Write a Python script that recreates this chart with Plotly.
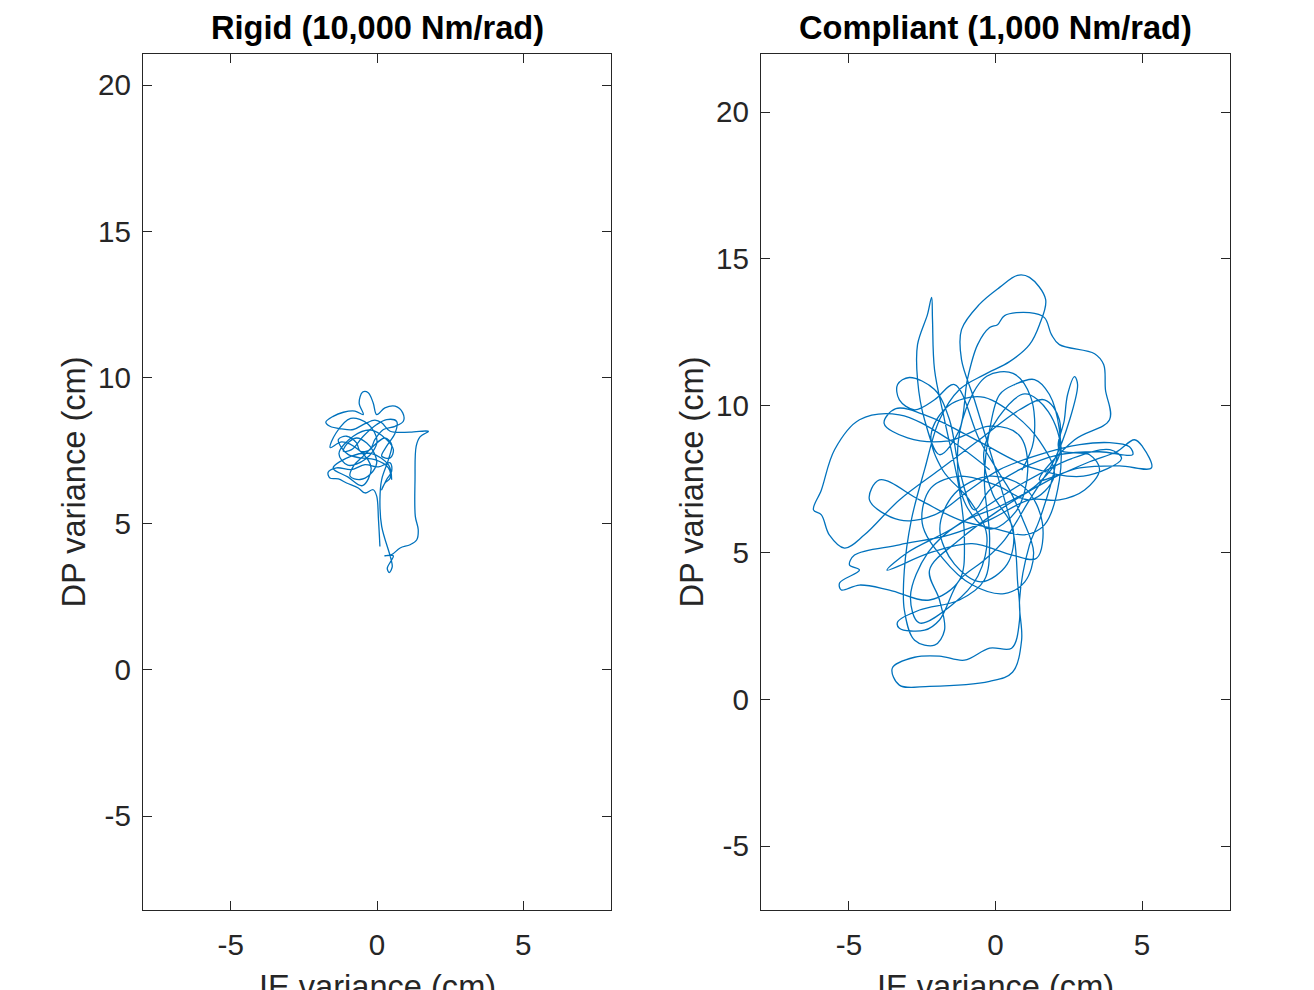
import plotly.graph_objects as go
from plotly.subplots import make_subplots

# ---------------- data ----------------
titles = ["Rigid (10,000 Nm/rad)", "Compliant (1,000 Nm/rad)"]
x_label = "IE variance (cm)"
y_label = "DP variance (cm)"
x_ticks = [-5, 0, 5]
x_ticktext = ["-5", "0", "5"]
y_ticks = [-5, 0, 5, 10, 15, 20]
y_ticktext = ["-5", "0", "5", "10", "15", "20"]

rigid_ie = [0.10, 0.05, -0.01, -0.13, -0.41, -0.64, -1.04, -1.32, -1.61, -1.67,
            -1.38, -0.87, -0.41, 0.05, 0.45, 0.50, 0.33, 0.16, 0.27, 0.45,
            0.39, -0.07, -0.58, -0.98, -1.21, -1.32, -1.04, -0.70, -0.58, -0.24,
            -0.07, 0.22, 0.62, 0.90, 0.88, 0.62, 0.27, -0.01, -0.13, -0.30,
            -0.49, -0.61, -0.47, -0.75, -1.15, -1.50, -1.75, -1.61, -1.21, -0.81,
            -0.41, -0.07, 0.16, 0.45, 1.13, 1.76, 1.47, 1.34, 1.30, 1.31,
            1.41, 1.36, 1.13, 0.79, 0.50, 0.27, 0.56, 0.47, 0.35, 0.42,
            0.52, 0.47, 0.16, 0.10, 0.16, 0.39, 0.50, 0.27, -0.13, -0.47,
            -0.81, -0.92, -0.58, -0.24, -0.01, -0.13, -0.35, -0.70, -1.04, -1.15,
            -0.87, -0.47, -0.01, 0.33, 0.67, 0.62, 0.33, 0.16, 0.45, 0.56,
            0.30, -0.20, -0.80, -1.30, -1.00, -0.40, 0.00, -0.30, -0.90, -1.40,
            -1.60, -1.20, -0.60, -0.20, -0.50, -1.00, -1.50, -0.90, -0.20, 0.40,
            0.50]
rigid_dp = [4.22, 5.14, 5.94, 6.16, 6.05, 6.22, 6.39, 6.53, 6.56, 6.76,
            6.91, 6.85, 7.02, 6.94, 7.08, 6.79, 6.51, 6.16, 6.39, 6.56,
            6.91, 7.19, 7.25, 7.36, 7.59, 7.88, 7.99, 7.76, 7.48, 7.53,
            7.88, 8.22, 8.33, 8.50, 8.79, 9.02, 8.96, 8.73, 9.13, 9.48,
            9.50, 9.13, 8.73, 8.85, 8.81, 8.67, 8.47, 8.33, 8.24, 8.22,
            8.42, 8.54, 8.45, 8.16, 8.13, 8.16, 7.97, 7.65, 6.51, 5.25,
            4.79, 4.45, 4.28, 4.17, 3.94, 3.90, 3.90, 3.71, 3.48, 3.33,
            3.52, 3.82, 4.91, 5.82, 6.51, 7.19, 7.71, 7.93, 7.65, 7.31,
            6.96, 6.62, 6.51, 6.68, 7.08, 7.48, 7.76, 7.93, 7.71, 7.48,
            7.53, 7.99, 8.39, 8.56, 8.50, 8.10, 7.65, 7.31, 7.25, 7.53,
            7.90, 8.20, 8.00, 7.40, 7.00, 7.20, 7.80, 8.40, 8.60, 8.10,
            7.60, 7.80, 7.50, 6.90, 6.30, 6.60, 6.90, 7.30, 7.40, 7.00,
            6.50]

compliant_ie = [-0.20, -1.57, -3.28, -4.64, -5.49, -5.94, -6.21, -5.94, -5.67, -5.15,
                -4.47, -3.28, -1.91, -0.55, 0.82, 1.67, 2.18, 2.01, 1.50, 1.16,
                0.82, 0.89, 0.58, -0.20, -2.25, -3.28, -3.52, -2.76, -1.91, -1.06,
                -0.20, 0.55, 0.82, 0.75, 0.65, 0.31, -0.20, -0.72, -1.16, -1.16,
                -0.55, 0.14, 0.75, 1.16, 1.71, 1.50, 1.16, 0.48, -0.38, -1.23,
                -1.91, -2.42, -2.87, -3.11, -3.11, -2.76, -2.08, -1.74, -1.91, -2.25,
                -1.23, 0.14, 1.84, 3.21, 4.13, 4.74, 5.02, 5.32, 4.23, 2.87,
                1.50, 2.70, 3.89, 3.75, 3.69, 3.38, 2.18, 1.91, 1.67, 1.16,
                0.31, 0.07, -0.20, -0.61, -0.96, -1.23, -1.91, -2.42, -2.66, -2.66,
                -2.32, -2.18, -2.15, -2.08, -1.74, -1.23, -1.06, -1.23, -2.25, -3.62,
                -4.64, -5.26, -5.32, -4.64, -4.98, -4.81, -3.28, -1.57, -0.20, 1.16,
                2.18, 3.04, 3.55, 3.21, 2.18, 2.35, 2.46, 2.70, 2.80, 2.53,
                2.01, 1.16, 0.31, -0.38, -1.23, -1.91, -2.42, -3.28, -3.34, -2.59,
                -1.23, -0.38, -0.20, -0.38, -0.20, 0.14, 0.65, 1.33, 1.84, 2.18,
                2.18, 1.67, 0.99, 0.14, -1.23, -2.59, -3.96, -4.30, -3.28, -2.08,
                -0.89, 0.14, 1.50, 2.87, 3.89, 4.57, 4.68, 3.55, 2.18, 0.82,
                -0.20, -0.72, -1.23, -1.57, -2.08, -2.94, -3.34, -3.28, -2.76, -2.08,
                -1.40, -0.55, 0.14, 0.48,
                0.90, 1.30, 1.00, 0.30, -0.80, -1.80, -2.50, -2.20, -1.20, 0.00,
                1.20, 2.00, 1.50, 0.50, -0.50, -1.60, -2.20, -1.80, -0.90, -0.30,
                -0.60, -1.50, -2.60, -2.90, -2.30, -1.20, 0.20, 1.40, 2.20, 1.80,
                1.00, 0.10, -0.40, -0.10, 0.60, 0.40, -0.50, -1.40, -1.90, -1.40,
                -0.20, 1.00, 1.60, 1.40, 0.60, -0.80, -2.20, -3.70, -3.00, -1.50,
                1.00, 2.60, 3.90, 4.30, 3.00, 1.20, -0.60, -2.20, -3.40, -3.80,
                -3.00, -1.60, -0.20, 0.80, 1.10, 0.70, -0.20, -1.00, -1.30, -1.00,
                -0.30, 0.60, 1.20, 1.30, 0.90]
compliant_dp = [7.82, 8.84, 9.69, 9.52, 8.50, 7.13, 6.45, 6.28, 5.60, 5.15,
                5.60, 6.79, 7.82, 8.84, 9.86, 10.20, 9.52, 7.82, 6.11, 5.26,
                3.38, 2.01, 0.92, 0.61, 0.44, 0.48, 1.06, 1.43, 1.47, 1.33,
                1.74, 1.74, 2.70, 4.06, 5.43, 6.79, 8.50, 10.20, 11.57, 12.59,
                13.45, 14.03, 14.44, 14.37, 13.62, 12.76, 12.08, 11.50, 11.06, 10.55,
                9.52, 7.82, 6.11, 4.40, 3.04, 2.01, 1.84, 2.35, 3.38, 4.40,
                5.43, 6.45, 7.47, 8.09, 8.43, 8.84, 8.60, 7.88, 7.95, 7.88,
                7.47, 8.84, 9.52, 10.55, 11.40, 11.77, 12.08, 12.42, 13.00, 13.17,
                13.07, 12.76, 12.66, 12.08, 10.89, 9.18, 8.33, 9.52, 10.89, 12.08,
                13.11, 13.69, 12.94, 11.23, 9.52, 7.13, 5.43, 4.06, 3.38, 3.72,
                3.89, 3.72, 3.96, 4.40, 4.57, 4.91, 5.26, 5.60, 6.11, 6.79,
                6.79, 7.13, 7.82, 8.33, 8.50, 9.52, 10.38, 10.99, 10.72, 9.52,
                8.16, 6.79, 5.43, 4.74, 4.06, 2.70, 2.35, 2.42, 2.63, 3.04,
                3.38, 4.06, 5.43, 7.47, 9.18, 10.38, 10.72, 10.89, 10.38, 9.18,
                7.47, 5.94, 5.60, 5.77, 6.11, 6.79, 7.47, 6.79, 6.11, 6.28,
                7.13, 7.82, 8.33, 8.67, 8.74, 8.60, 8.33, 8.43, 8.33, 7.82,
                7.13, 6.45, 7.82, 9.52, 10.55, 10.96, 10.72, 10.20, 9.86, 10.20,
                10.72, 8.84, 7.68, 7.13,
                6.20, 5.00, 4.00, 3.60, 3.90, 4.80, 6.00, 7.20, 7.60, 7.30,
                6.80, 7.60, 8.80, 9.80, 10.30, 10.00, 9.00, 7.80, 6.80, 5.60,
                4.20, 3.20, 2.60, 3.50, 5.00, 6.00, 6.60, 7.30, 8.40, 9.80,
                10.40, 9.60, 8.40, 7.00, 5.80, 4.60, 4.00, 4.60, 5.80, 7.00,
                7.60, 7.20, 6.00, 4.80, 4.90, 5.30, 5.00, 4.40, 5.00, 5.80,
                7.40, 8.20, 8.50, 8.20, 7.60, 7.90, 8.80, 9.60, 9.90, 9.40,
                8.90, 8.80, 9.30, 9.00, 7.80, 6.40, 5.80, 6.60, 8.20, 9.90,
                11.00, 11.10, 10.30, 8.80, 7.80]

x_range = [-8, 8]
y_ranges = [[-8.21, 21.06], [-7.18, 21.98]]

# ---------------- figure ----------------
W, H = 1314, 990
line_color = "#0072BD"
axis_color = "#262626"
font_family = "Liberation Sans, Arial, sans-serif"

fig = make_subplots(rows=1, cols=2)
fig.add_trace(go.Scatter(x=rigid_ie, y=rigid_dp, mode="lines",
                         line=dict(color=line_color, width=1.3, shape="spline", smoothing=1.0),
                         showlegend=False), row=1, col=1)
fig.add_trace(go.Scatter(x=compliant_ie, y=compliant_dp, mode="lines",
                         line=dict(color=line_color, width=1.3, shape="spline", smoothing=1.0),
                         showlegend=False), row=1, col=2)

x_domains = [[143 / W, 611 / W], [761 / W, 1230 / W]]
y_domain = [(H - 910) / H, (H - 54) / H]

axis_common = dict(
    showgrid=False, zeroline=False, showline=True, linecolor=axis_color, linewidth=1.3,
    mirror="ticks", ticks="inside", ticklen=9, tickwidth=1.3, tickcolor=axis_color,
    tickfont=dict(family=font_family, size=29.6, color=axis_color), automargin=False,
)

for i in range(2):
    xa = "xaxis" if i == 0 else "xaxis2"
    ya = "yaxis" if i == 0 else "yaxis2"
    fig.layout[xa].update(domain=x_domains[i], range=x_range, tickvals=x_ticks,
                          ticktext=x_ticktext, ticklabelstandoff=8, **axis_common)
    fig.layout[ya].update(domain=y_domain, range=y_ranges[i], tickvals=y_ticks,
                          ticktext=y_ticktext, ticklabelstandoff=5,
                          title=dict(text=y_label, standoff=2,
                                     font=dict(family=font_family, size=32.6, color=axis_color)),
                          **axis_common)

for i in range(2):
    cx = sum(x_domains[i]) / 2
    fig.add_annotation(text="<b>" + titles[i] + "</b>", xref="paper", yref="paper",
                       x=cx, y=(H - 28) / H, xanchor="center", yanchor="middle",
                       showarrow=False, font=dict(family=font_family, size=32.6, color="black"))
    fig.add_annotation(text=x_label, xref="paper", yref="paper",
                       x=cx, y=(H - 986) / H, xanchor="center", yanchor="middle",
                       showarrow=False, font=dict(family=font_family, size=32.6, color=axis_color))

fig.update_layout(width=W, height=H, margin=dict(l=0, r=0, t=0, b=0),
                  plot_bgcolor="white", paper_bgcolor="white",
                  font=dict(family=font_family, color=axis_color))

fig.write_html("out.html", include_plotlyjs=True, config={"displayModeBar": False},
               post_script="document.body.style.margin='0';document.body.style.overflow='hidden';")
